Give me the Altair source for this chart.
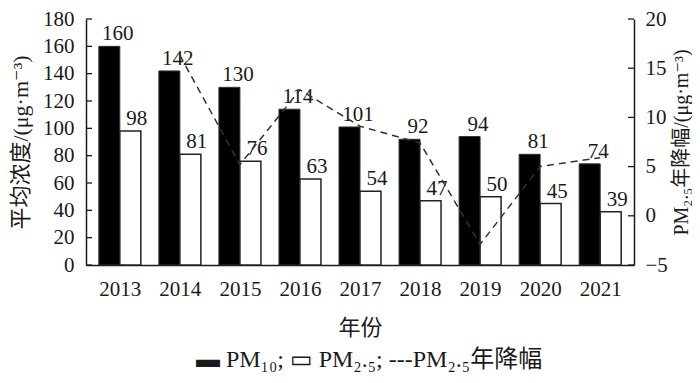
import altair as alt
import pandas as pd

# ---- data ----
years = [2013, 2014, 2015, 2016, 2017, 2018, 2019, 2020, 2021]
pm10 = [160, 142, 130, 114, 101, 92, 94, 81, 74]
pm25 = [98, 81, 76, 63, 54, 47, 50, 45, 39]
decline_years = [2014, 2015, 2016, 2017, 2018, 2019, 2020, 2021]
decline = [16.3, 5.2, 12.8, 9.1, 7.4, -2.9, 5.0, 5.9]
left_ticks = [0, 20, 40, 60, 80, 100, 120, 140, 160, 180]
right_ticks = [-5, 0, 5, 10, 15, 20]

FONT = "Liberation Serif, DejaVu Serif, Noto Sans CJK SC"
LEG_FONT = "Liberation Serif, DejaVu Sans, Noto Sans CJK SC"
W, H = 548, 246
INK = "#1a1a1a"

bars_df = pd.DataFrame({"year": years, "pm10": pm10, "pm25": pm25})
line_df = pd.DataFrame({"year": decline_years, "decline": decline})
lt_df = pd.DataFrame({"v": left_ticks})
rt_df = pd.DataFrame({"v": right_ticks})

x_scale = alt.Scale(domain=[2012.52, 2021.48], nice=False, zero=False)
x_axis = alt.Axis(values=years, format="d", title="年份", grid=False, ticks=False, tickSize=0,
                  labelPadding=13, titlePadding=18, domainColor=INK, domainWidth=1.5,
                  labelFontSize=21, titleFontSize=22, labelFont=FONT, titleFont=FONT,
                  labelColor=INK, titleColor=INK, labelFontWeight="normal", titleFontWeight="normal",
                  labelFlush=False, labelOverlap=False)
X = alt.X("year:Q", scale=x_scale, axis=x_axis)

yl_scale = alt.Scale(domain=[0, 180], nice=False, zero=False)
yl_axis = alt.Axis(values=left_ticks, title="平均浓度/(μg·m⁻³)", grid=False, ticks=False, tickSize=0,
                   labelPadding=12, titlePadding=10, domainColor=INK, domainWidth=1.5,
                   labelFontSize=21, titleFontSize=22, labelFont=FONT, titleFont=FONT,
                   labelColor=INK, titleColor=INK, titleFontWeight="normal",
                   labelFlush=False, labelOverlap=False, orient="left")

yr_scale = alt.Scale(domain=[-5, 20], nice=False, zero=False)
yr_axis = alt.Axis(values=right_ticks, title="PM₂.₅年降幅/(μg·m⁻³)", grid=False, ticks=False, tickSize=0,
                   labelPadding=11, titlePadding=4, titleAngle=270, titleBaseline="top",
                   domainColor=INK, domainWidth=1.5,
                   labelFontSize=21, titleFontSize=20, labelFont=FONT, titleFont=FONT,
                   labelColor=INK, titleColor=INK, titleFontWeight="normal",
                   labelFlush=False, labelOverlap=False, orient="right")

base = alt.Chart(bars_df)
black = base.mark_bar(width=21, xOffset=-10.5, color="black", stroke="#333", strokeWidth=1).encode(
    x=X, y=alt.Y("pm10:Q", scale=yl_scale, axis=yl_axis))
white = base.mark_bar(width=21, xOffset=10.5, fill="white", stroke="#222", strokeWidth=1.5).encode(
    x=X, y=alt.Y("pm25:Q", scale=yl_scale, axis=yl_axis))
lab10 = base.mark_text(dx=-2, dy=-6, baseline="alphabetic", font=FONT, fontSize=21, color=INK).encode(
    x=X, y=alt.Y("pm10:Q", scale=yl_scale, axis=yl_axis), text="pm10:Q")
lab25 = base.mark_text(dx=17, dy=-6, baseline="alphabetic", font=FONT, fontSize=21, color=INK).encode(
    x=X, y=alt.Y("pm25:Q", scale=yl_scale, axis=yl_axis), text="pm25:Q")
lticks = alt.Chart(lt_df).mark_rule(color=INK, strokeWidth=1.3).encode(
    y=alt.Y("v:Q", scale=yl_scale, axis=yl_axis), x=alt.value(0), x2=alt.value(6))

left = alt.layer(black, white, lab10, lab25, lticks)

line = alt.Chart(line_df).mark_line(strokeDash=[7, 5], color="#333", strokeWidth=1.5).encode(
    x=X, y=alt.Y("decline:Q", scale=yr_scale, axis=yr_axis))
rticks = alt.Chart(rt_df).mark_rule(color=INK, strokeWidth=1.3).encode(
    y=alt.Y("v:Q", scale=yr_scale, axis=yr_axis), x=alt.value(W - 6), x2=alt.value(W))

right = alt.layer(line, rticks)

chart = alt.layer(left, right).resolve_scale(y="independent").properties(
    width=W, height=H,
    autosize="none",
    padding={"left": 78, "top": 11, "right": 58, "bottom": 109},
    title=alt.TitleParams(text="▬ PM₁₀; ▭ PM₂.₅; ---PM₂.₅年降幅", orient="bottom", anchor="middle",
                          font=LEG_FONT, fontSize=24, fontWeight="normal", color=INK, offset=10, dx=9),
).configure_view(stroke=None)

chart.save("out.html", embed_options={"renderer": "svg", "actions": False})
